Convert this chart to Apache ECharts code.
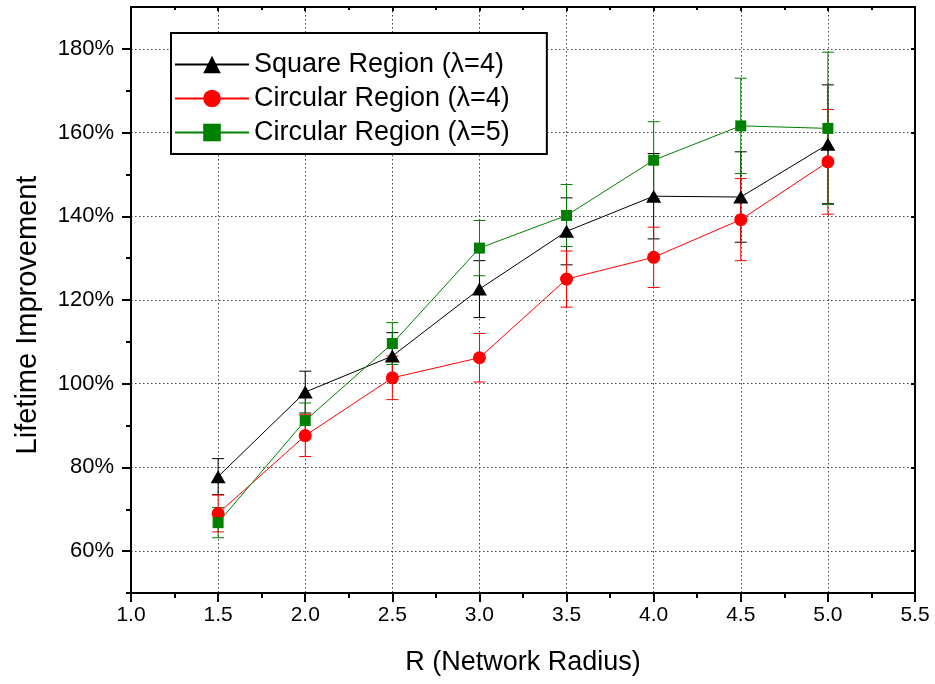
<!DOCTYPE html>
<html><head><meta charset="utf-8">
<script src="https://cdn.jsdelivr.net/npm/echarts@6/dist/echarts.min.js"></script>
<style>html,body{margin:0;padding:0;background:#fff}#c{width:935px;height:684px}</style>
</head><body><div id="c"></div>
<script>
// ---- data ----
const radius = [1.5, 2.0, 2.5, 3.0, 3.5, 4.0, 4.5, 5.0];
const squareL4 = [77.8, 98.0, 106.6, 122.6, 136.4, 144.8, 144.6, 157.2];
const squareL4Err = [4.3, 5.0, 5.6, 6.8, 8.0, 10.2, 10.8, 14.2];
const circleL4 = [69.0, 87.6, 101.4, 106.2, 125.0, 130.2, 139.2, 153.0];
const circleL4Err = [4.4, 5.0, 5.2, 5.8, 6.7, 7.2, 9.8, 12.5];
const circleL5 = [66.8, 91.2, 109.6, 132.4, 140.2, 153.4, 161.6, 161.0];
const circleL5Err = [3.6, 4.2, 5.0, 6.6, 7.4, 9.2, 11.4, 18.2];
const seriesNames = ['Square Region (\u03bb=4)', 'Circular Region (\u03bb=4)', 'Circular Region (\u03bb=5)'];
const xTickValues = [1.0, 1.5, 2.0, 2.5, 3.0, 3.5, 4.0, 4.5, 5.0, 5.5];
const yTickValues = [60, 80, 100, 120, 140, 160, 180];
const yMinorTickValues = [50, 70, 90, 110, 130, 150, 170];
const xTitle = 'R (Network Radius)';
const yTitle = 'Lifetime Improvement';

const FONT = '"Liberation Sans", Arial, sans-serif';
const chart = echarts.init(document.getElementById('c'), null, {renderer: 'canvas'});

function errRender(color) {
  return function (params, api) {
    const x = api.value(0), lo = api.value(1), hi = api.value(2);
    const a = api.coord([x, lo]), b = api.coord([x, hi]);
    const hw = 6;
    const style = {stroke: color, lineWidth: 1, fill: null};
    return {type: 'group', children: [
      {type: 'line', shape: {x1: a[0], y1: a[1], x2: b[0], y2: b[1]}, style: style},
      {type: 'line', shape: {x1: a[0] - hw, y1: a[1], x2: a[0] + hw, y2: a[1]}, style: style},
      {type: 'line', shape: {x1: b[0] - hw, y1: b[1], x2: b[0] + hw, y2: b[1]}, style: style}
    ]};
  };
}

const groups = [
  {name: seriesNames[0], vals: squareL4, errs: squareL4Err, color: '#000000', symbol: 'triangle', size: [15, 13]},
  {name: seriesNames[1], vals: circleL4, errs: circleL4Err, color: '#ff0000', symbol: 'circle', size: 13},
  {name: seriesNames[2], vals: circleL5, errs: circleL5Err, color: '#008000', symbol: 'rect', size: 11}
];

const series = [];
groups.forEach(function (g) {
  series.push({
    name: g.name + ' error', type: 'custom', xAxisIndex: 0, yAxisIndex: 0,
    renderItem: errRender(g.color), silent: true, z: 3,
    encode: {x: 0, y: [1, 2]},
    data: radius.map(function (r, i) { return [r, g.vals[i] - g.errs[i], g.vals[i] + g.errs[i]]; })
  });
  series.push({
    name: g.name, type: 'line', xAxisIndex: 0, yAxisIndex: 0, z: 3,
    symbol: g.symbol, symbolSize: g.size, showSymbol: true,
    itemStyle: {color: g.color, borderWidth: 0},
    lineStyle: {color: g.color, width: 1},
    emphasis: {disabled: true},
    data: radius.map(function (r, i) { return [r, g.vals[i]]; })
  });
});

const gridLine = {show: true, lineStyle: {color: '#444', width: 1, type: [1.5, 2.5]}};

chart.setOption({
  animation: false,
  backgroundColor: '#fff',
  textStyle: {fontFamily: FONT},
  grid: {left: 131, right: 20, top: 7, bottom: 91, containLabel: false, outerBoundsMode: 'none'},
  legend: {
    data: seriesNames, orient: 'vertical', left: 171, top: 33,
    backgroundColor: '#fff', borderColor: '#000', borderWidth: 2,
    padding: [18, 37, 8, 3], itemGap: 7, itemWidth: 74, itemHeight: 22,
    textStyle: {fontSize: 27, color: '#000', fontFamily: FONT},
    z: 10, selectedMode: false
  },
  xAxis: [{
    type: 'value', min: 1.0, max: 5.5, interval: 0.5, position: 'bottom',
    name: xTitle, nameLocation: 'middle', nameGap: 56,
    nameTextStyle: {fontSize: 27, color: '#000', fontFamily: FONT},
    axisLine: {show: true, onZero: false, lineStyle: {color: '#000', width: 2}},
    axisTick: {show: true, length: 9, lineStyle: {color: '#000', width: 2}},
    minorTick: {show: true, splitNumber: 2, length: 5, lineStyle: {color: '#000', width: 2}},
    axisLabel: {fontSize: 21, color: '#000', margin: 12, fontFamily: FONT,
      formatter: function (v) { return xTickValues.indexOf(v) >= 0 ? v.toFixed(1) : ''; }},
    splitLine: gridLine
  }, {
    type: 'value', min: 1.0, max: 5.5, interval: 0.5, position: 'top',
    axisLine: {show: true, onZero: false, lineStyle: {color: '#000', width: 2}},
    axisTick: {show: true, inside: true, length: 4, lineStyle: {color: '#000', width: 2}},
    minorTick: {show: true, splitNumber: 2, length: 3, lineStyle: {color: '#000', width: 2}},
    axisLabel: {show: false}, splitLine: {show: false}
  }],
  yAxis: [{
    type: 'value', min: 50, max: 190, minInterval: 20, maxInterval: 20, splitNumber: 7, position: 'left',
    name: yTitle, nameLocation: 'middle', nameGap: 89, nameRotate: 90,
    nameTextStyle: {fontSize: 29, color: '#000', fontFamily: FONT, padding: [0, 30, 0, 0]},
    axisLine: {show: true, onZero: false, lineStyle: {color: '#000', width: 2}},
    axisTick: {show: true, length: 9, customValues: yTickValues, lineStyle: {color: '#000', width: 2}},
    axisLabel: {fontSize: 22, color: '#000', margin: 17, fontFamily: FONT, showMinLabel: false, showMaxLabel: false,
      formatter: function (v) { return yTickValues.indexOf(v) >= 0 ? v + '%' : ''; }},
    splitLine: gridLine
  }, {
    type: 'value', min: 50, max: 190, interval: 10, position: 'left',
    axisLine: {show: false},
    axisTick: {show: true, length: 5, customValues: yMinorTickValues, lineStyle: {color: '#000', width: 2}},
    axisLabel: {show: false}, splitLine: {show: false}
  }, {
    type: 'value', min: 50, max: 190, minInterval: 20, maxInterval: 20, splitNumber: 7, position: 'right',
    axisLine: {show: true, onZero: false, lineStyle: {color: '#000', width: 2}},
    axisTick: {show: true, inside: true, length: 4, lineStyle: {color: '#000', width: 2}},
    axisLabel: {show: false}, splitLine: {show: false}
  }],
  series: series
});
</script>
</body></html>
